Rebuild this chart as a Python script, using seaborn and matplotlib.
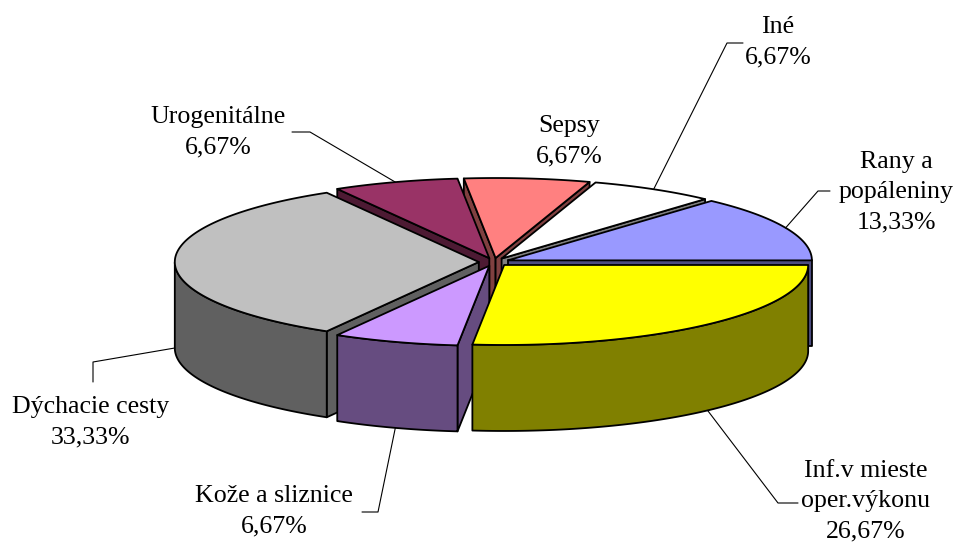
import numpy as np
import matplotlib
matplotlib.use("Agg")
import matplotlib.pyplot as plt
from matplotlib.patches import Polygon
import seaborn as sns

# -----------------------------
# Data (slices go clockwise, first one starts at 3 o'clock)
# -----------------------------
categories = ["Inf.v mieste\noper.výkonu", "Kože a sliznice", "Dýchacie cesty",
              "Urogenitálne", "Sepsy", "Iné", "Rany a\npopáleniny"]
shares = [26.67, 6.67, 33.33, 6.67, 6.67, 6.67, 13.33]
top_colors = ["#FFFF00", "#CC99FF", "#C0C0C0", "#993366", "#FF8080", "#FFFFFF", "#9999FF"]
side_colors = ["#808000", "#664C80", "#606060", "#4D1A33", "#804040", "#808080", "#4D4D80"]

# label centres and leader line (elbow, tail) in pixel space
label_pos = [(866, 501), (274, 511), (91, 422), (218, 132), (569, 141), (778, 42), (896, 192)]
leaders = [((778, 503), (798, 503)), ((378, 512), (362, 512)), ((93, 362), (93, 382)),
           ((310, 132), (292, 132)), None, ((727, 43), (743, 43)), ((818, 191), (830, 191))]

# -----------------------------
# Pie geometry
# -----------------------------
W, H = 956, 547
cx, cy = 494, 262        # centre of the top face
rx, ry = 304, 80         # ellipse radii of the top face
depth = 86               # thickness of the pie
explode = 0.05
start = 90.0             # degrees clockwise from 12 o'clock

sns.set_theme(style="white")
plt.rcParams['font.family'] = ['Liberation Serif', 'DejaVu Serif']

fig = plt.figure(figsize=(W / 100, H / 100), dpi=100)
ax = fig.add_axes([0, 0, 1, 1])
ax.set_xlim(0, W)
ax.set_ylim(H, 0)
ax.axis('off')

vals = np.array(shares, dtype=float)
bounds = start + 360 * np.concatenate([[0], np.cumsum(vals)]) / vals.sum()


def point(t, ox, oy, r=1.0, dz=0.0):
    t = np.radians(t)
    return cx + ox + r * rx * np.sin(t), cy + oy - r * ry * np.cos(t) + dz


edge = dict(edgecolor='black', linewidth=1.3, joinstyle='round')
slices = []
for i in range(len(vals)):
    t1, t2 = bounds[i], bounds[i + 1]
    tm = (t1 + t2) / 2
    ox = explode * rx * np.sin(np.radians(tm))
    oy = -explode * ry * np.cos(np.radians(tm))
    slices.append((i, t1, t2, tm, ox, oy))

# far slices first
order = sorted(slices, key=lambda s: -np.cos(np.radians(s[3])))

# 1) radial side faces
for i, t1, t2, tm, ox, oy in order:
    apx, apy = cx + ox, cy + oy
    for t, visible in ((t1, np.sin(np.radians(t1)) < 0), (t2, np.sin(np.radians(t2)) > 0)):
        if visible:
            px, py = point(t, ox, oy)
            face = [(apx, apy), (px, py), (px, py + depth), (apx, apy + depth)]
            ax.add_patch(Polygon(face, closed=True, facecolor=side_colors[i], **edge))

# 2) outer walls (front half only)
for i, t1, t2, tm, ox, oy in order:
    ts = np.linspace(t1, t2, 200)
    front = ts[np.cos(np.radians(ts)) <= 0]
    if len(front) > 1:
        xs, ys = point(front, ox, oy)
        wall = list(zip(xs, ys)) + list(zip(xs[::-1], ys[::-1] + depth))
        ax.add_patch(Polygon(wall, closed=True, facecolor=side_colors[i], **edge))

# 3) top faces
for i, t1, t2, tm, ox, oy in order:
    ts = np.linspace(t1, t2, 200)
    xs, ys = point(ts, ox, oy)
    top = [(cx + ox, cy + oy)] + list(zip(xs, ys))
    ax.add_patch(Polygon(top, closed=True, facecolor=top_colors[i], **edge))

# -----------------------------
# Labels and leader lines
# -----------------------------
for i, t1, t2, tm, ox, oy in slices:
    pct = f"{shares[i]:.2f}".replace('.', ',') + "%"
    lx, ly = label_pos[i]
    ax.text(lx, ly, f"{categories[i]}\n{pct}", ha='center', va='center',
            fontsize=18.6, linespacing=1.47, color='black')
    if leaders[i] is not None:
        dz = depth if np.cos(np.radians(tm)) < 0 else 0
        px, py = point(tm, ox, oy, dz=dz)
        (ex, ey), (tx, ty) = leaders[i]
        ax.plot([px, ex, tx], [py, ey, ty], color='black', lw=0.8)

fig.savefig("out.png", dpi=100, facecolor='white')
